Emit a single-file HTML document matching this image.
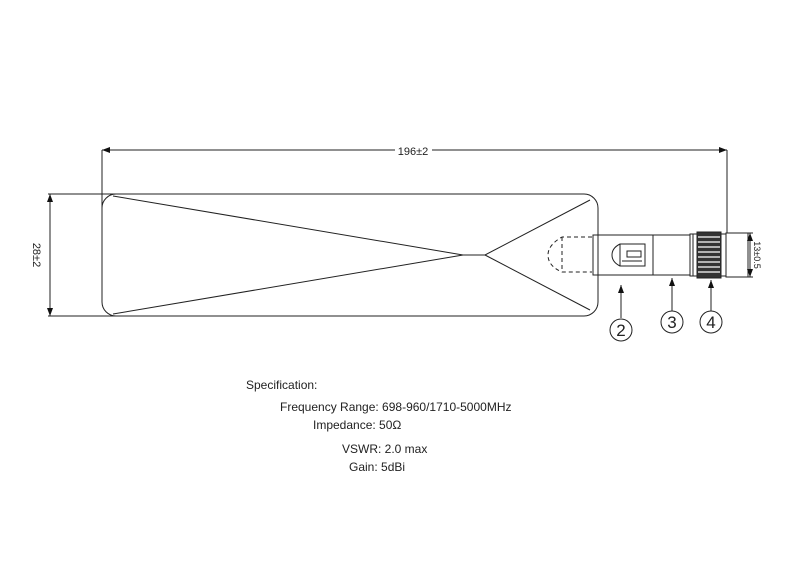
<!DOCTYPE html>
<html><head><style>
body{margin:0;background:#fff;}
svg{display:block;}
text{font-family:"Liberation Sans",sans-serif;fill:#222;}
</style></head><body>
<svg width="800" height="584" viewBox="0 0 800 584" xmlns="http://www.w3.org/2000/svg">
<defs>
<marker id="a" markerWidth="8" markerHeight="6" refX="8" refY="3" orient="auto-start-reverse" markerUnits="userSpaceOnUse"><path d="M0,0 L8,3 L0,6 Z" fill="#111"/></marker>
</defs>
<g stroke="#222" stroke-width="1" fill="none">
<line x1="102" y1="150" x2="727" y2="150" marker-start="url(#a)" marker-end="url(#a)"/>
<line x1="102" y1="150" x2="102" y2="300"/>
<line x1="727" y1="150" x2="727" y2="233"/>
<line x1="48" y1="194" x2="118" y2="194"/>
<line x1="48" y1="316" x2="118" y2="316"/>
<line x1="50" y1="194" x2="50" y2="316" marker-start="url(#a)" marker-end="url(#a)"/>
<rect x="102" y="194" width="496" height="122" rx="14"/>
<polyline points="113,196 463,255 485,255 590,200"/>
<polyline points="113,314 463,255"/>
<line x1="485" y1="255" x2="590" y2="310"/>
<path d="M592,237 L562,237 Q548,245 548,255 Q548,266 562,272 L592,272" stroke-dasharray="4,3"/>
<line x1="562" y1="237" x2="562" y2="272" stroke-dasharray="4,3"/>
<rect x="593" y="235" width="60" height="40"/>
<path d="M620,244 Q612,248 612,255 Q612,262 620,266 L645,266 L645,244 Z"/>
<line x1="620" y1="244" x2="620" y2="266"/>
<rect x="627" y="251" width="14" height="6"/>
<line x1="622" y1="261" x2="642" y2="261"/>
<rect x="653" y="235" width="37" height="40"/>
<rect x="690" y="234" width="7" height="42"/>
<line x1="693" y1="234" x2="693" y2="276"/>
<rect x="697" y="232" width="24" height="46" fill="#333"/>
<rect x="721" y="234" width="5" height="42"/>
<rect x="726" y="233" width="22" height="44"/>
<line x1="748" y1="233" x2="753" y2="233"/>
<line x1="748" y1="277" x2="753" y2="277"/>
<line x1="750" y1="233" x2="750" y2="277" marker-start="url(#a)" marker-end="url(#a)"/>
<line x1="621" y1="318" x2="621" y2="285" marker-end="url(#a)"/>
<circle cx="621" cy="330" r="11"/>
<line x1="672" y1="311" x2="672" y2="278" marker-end="url(#a)"/>
<circle cx="672" cy="322" r="11"/>
<line x1="711" y1="311" x2="711" y2="280" marker-end="url(#a)"/>
<circle cx="711" cy="322" r="11"/>
</g>
<g stroke="#ddd" stroke-width="1.5">
<line x1="698" y1="237" x2="720" y2="237"/><line x1="698" y1="242" x2="720" y2="242"/>
<line x1="698" y1="247" x2="720" y2="247"/><line x1="698" y1="252" x2="720" y2="252"/>
<line x1="698" y1="257" x2="720" y2="257"/><line x1="698" y1="262" x2="720" y2="262"/>
<line x1="698" y1="267" x2="720" y2="267"/><line x1="698" y1="272" x2="720" y2="272"/>
</g>
<rect x="395" y="143" width="37" height="14" fill="#fff"/>
<text x="413" y="155" font-size="11" text-anchor="middle">196±2</text>
<text transform="translate(33,255) rotate(90)" font-size="11" text-anchor="middle">28±2</text>
<text transform="translate(754,255) rotate(90)" font-size="9" text-anchor="middle">13±0.5</text>
<text x="621" y="336" font-size="17" text-anchor="middle">2</text>
<text x="672" y="328" font-size="17" text-anchor="middle">3</text>
<text x="711" y="328" font-size="17" text-anchor="middle">4</text>
<g font-size="12">
<text x="246" y="389">Specification:</text>
<text x="280" y="411">Frequency Range: 698-960/1710-5000MHz</text>
<text x="313" y="429">Impedance: 50Ω</text>
<text x="342" y="453">VSWR: 2.0 max</text>
<text x="349" y="471">Gain: 5dBi</text>
</g>
</svg>
</body></html>
